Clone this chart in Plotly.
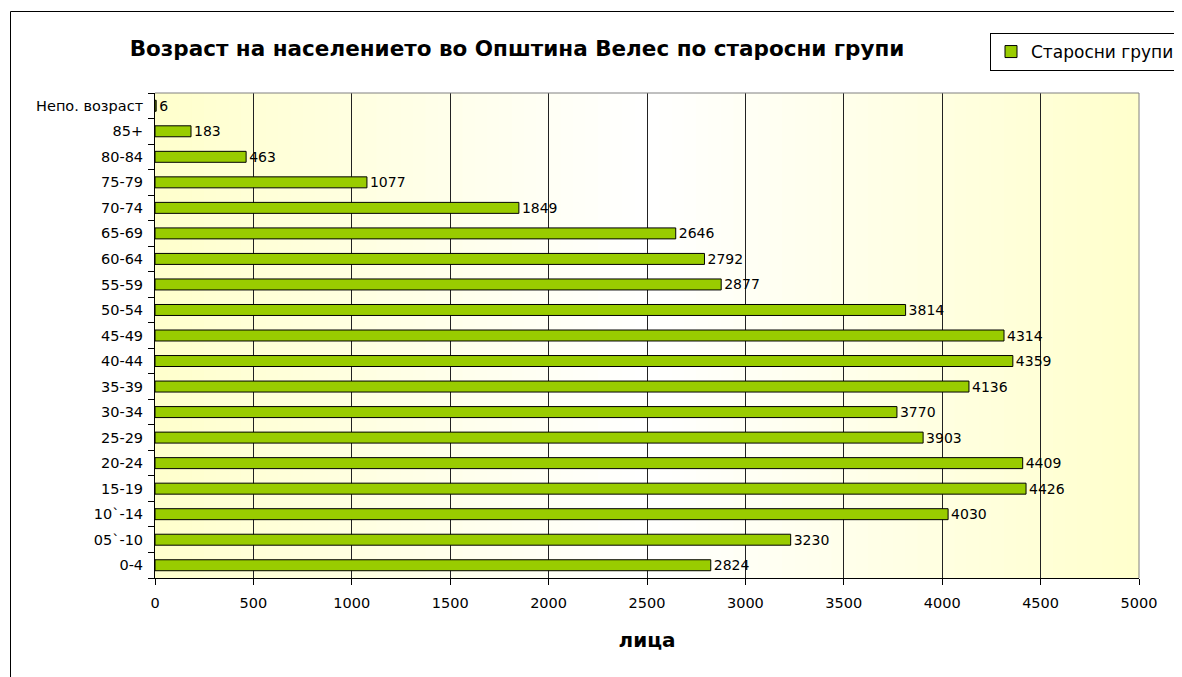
import plotly.graph_objects as go

categories = ["0-4", "05`-10", "10`-14", "15-19", "20-24", "25-29", "30-34", "35-39",
              "40-44", "45-49", "50-54", "55-59", "60-64", "65-69", "70-74", "75-79",
              "80-84", "85+", "Непо. возраст"]
values = [2824, 3230, 4030, 4426, 4409, 3903, 3770, 4136, 4359, 4314, 3814, 2877,
          2792, 2646, 1849, 1077, 463, 183, 6]
x_ticks = [0, 500, 1000, 1500, 2000, 2500, 3000, 3500, 4000, 4500, 5000]

title_text = "Возраст на населението во Општина Велес по старосни групи"
series_name = "Старосни групи"
x_title = "лица"

FONT = "DejaVu Sans, Arial, sans-serif"
OFF = 8  # page body margin
W, H = 1182, 677 - OFF
# plot area in screen pixels: x 155..1139, y 93..578
L = 155 - OFF
T = 93 - OFF
R = W - (1139 - OFF)
B = H - (578 - OFF)
pw, ph = W - L - R, H - T - B


def px_x(p):  # screen px -> paper
    return (p - OFF - L) / pw


def px_y(p):
    return (H - B - (p - OFF)) / ph


fig = go.Figure()
fig.add_trace(go.Bar(
    y=categories, x=values, orientation="h", name=series_name,
    marker=dict(color="#99CC00", line=dict(color="#000000", width=1)),
    width=0.43,
    text=[str(v) for v in values], textposition="outside", constraintext="none",
    textfont=dict(family=FONT, size=14, color="#000000"),
    cliponaxis=False, showlegend=True,
))

shapes = []
# gradient background (yellow - white - yellow)
n = 80
for i in range(n):
    t = (i + 0.5) / n
    k = abs(2 * t - 1.0)
    edge = (255, 255, 204)
    c = tuple(int(round(255 + (e - 255) * k)) for e in edge)
    shapes.append(dict(type="rect", xref="x domain", yref="y domain",
                       x0=i / n, x1=min(1.0, (i + 1) / n + 0.002), y0=0, y1=1,
                       fillcolor="rgb(%d,%d,%d)" % c, line=dict(width=0),
                       layer="below"))
# plot area top / right border (grey)
shapes.append(dict(type="line", xref="x domain", yref="y domain",
                   x0=0, x1=1, y0=1, y1=1, line=dict(color="#808080", width=1),
                   layer="above"))
shapes.append(dict(type="line", xref="x domain", yref="y domain",
                   x0=1, x1=1, y0=0, y1=1, line=dict(color="#808080", width=1),
                   layer="above"))
# outer chart frame
shapes.append(dict(type="rect", xref="paper", yref="paper",
                   x0=px_x(10.5), x1=px_x(1400), y0=px_y(800), y1=px_y(11.5),
                   line=dict(color="#000000", width=1), fillcolor="rgba(0,0,0,0)",
                   layer="above"))

fig.update_layout(
    width=W, height=H,
    margin=dict(l=L, r=R, t=T, b=B, autoexpand=False),
    paper_bgcolor="#FFFFFF", plot_bgcolor="#FFFFFF",
    font=dict(family=FONT, size=14, color="#000000"),
    title=dict(text="<b>" + title_text + "</b>", x=px_x(517), xref="paper",
               xanchor="center", y=1 - (48 - OFF) / H, yref="container",
               yanchor="middle",
               font=dict(family=FONT, size=21.5, color="#000000")),
    showlegend=True,
    legend=dict(x=px_x(990), y=px_y(33), xanchor="left", yanchor="top",
                bgcolor="#FFFFFF", bordercolor="#000000", borderwidth=1,
                font=dict(family=FONT, size=17, color="#000000"),
                itemwidth=30),
    shapes=shapes,
)

fig.update_xaxes(
    range=[0, 5000], tickmode="array", tickvals=x_ticks,
    ticktext=[str(v) for v in x_ticks],
    showgrid=True, gridcolor="#222222", gridwidth=1,
    showline=True, linecolor="#000000", linewidth=1,
    ticks="outside", ticklen=6, tickcolor="#000000",
    zeroline=False, automargin=False, ticklabelstandoff=6,
    tickfont=dict(family=FONT, size=14.5, color="#000000"),
    title=dict(text="<b>" + x_title + "</b>", standoff=22,
               font=dict(family=FONT, size=20, color="#000000")),
)
fig.update_yaxes(
    type="category", categoryorder="array", categoryarray=categories,
    showgrid=False, showline=True, linecolor="#000000", linewidth=1,
    ticks="outside", ticklen=6, tickcolor="#000000", tickson="boundaries",
    automargin=False, ticklabelstandoff=8,
    tickfont=dict(family=FONT, size=14.5, color="#000000"),
)

fig.write_html("out.html")
